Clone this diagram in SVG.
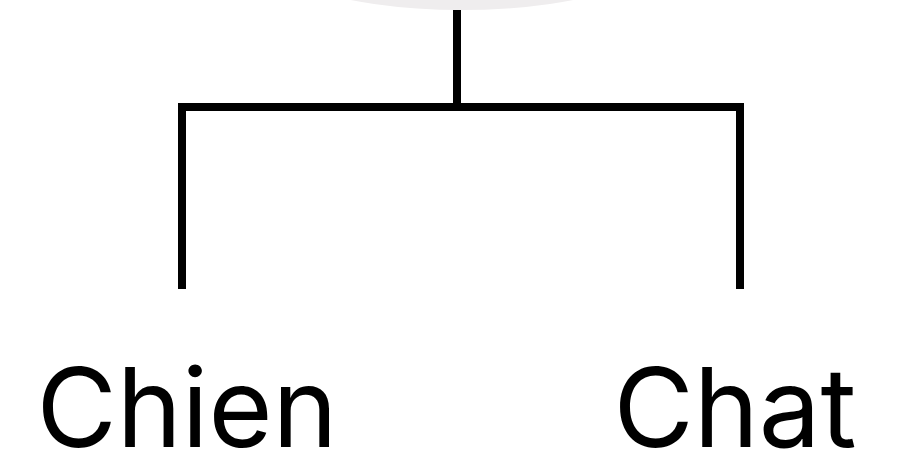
<svg xmlns="http://www.w3.org/2000/svg" width="903" height="466" viewBox="0 0 903 466">
  <style>
    .link { stroke: #000; stroke-width: 8; fill: none; stroke-linecap: butt; }
    .label { font-family: Inter, "Noto Sans", sans-serif; font-size: 110px; fill: #000; text-anchor: middle; }
  </style>
  <rect width="903" height="466" fill="#fff"/>
  <g id="root">
    <ellipse cx="462" cy="-70" rx="230" ry="80" fill="#efedee"/>
  </g>
  <g id="connectors">
    <line class="link" x1="457" y1="10" x2="457" y2="107"/>
    <line class="link" x1="178" y1="107" x2="744" y2="107"/>
    <line class="link" x1="182" y1="107" x2="182" y2="289"/>
    <line class="link" x1="740" y1="107" x2="740" y2="289"/>
  </g>
  <g id="chien">
    <text class="label" x="187" y="447">Chien</text>
  </g>
  <g id="chat">
    <text class="label" x="735" y="447">Chat</text>
  </g>
</svg>
